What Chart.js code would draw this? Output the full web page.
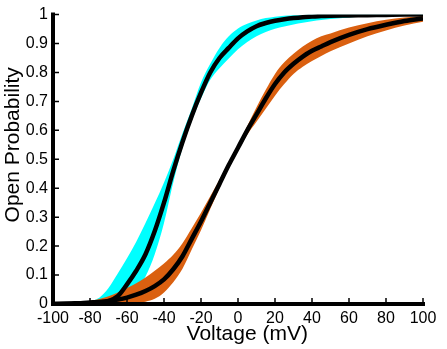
<!DOCTYPE html>
<html>
<head>
<meta charset="utf-8">
<script src="https://cdn.jsdelivr.net/npm/chart.js@4.4.1/dist/chart.umd.min.js"></script>
<style>
  html, body { margin: 0; padding: 0; background: #fff; }
  #wrap { width: 447px; height: 349px; }
</style>
</head>
<body>
<div id="wrap"><canvas id="openProbChart"></canvas></div>
<script>
// voltage grid (mV) shared by every series
const voltage = [-100, -90, -85, -80, -75, -70, -65, -60, -55, -50,
  -45, -40, -35, -30, -25, -20, -15, -10, -5, 0,
  5, 10, 15, 20, 25, 30, 35, 40, 45, 50,
  60, 70, 80, 90, 100];

// cyan channel: fit line and band edges
const cyanMid = [0, 0.001, 0.002, 0.003, 0.005, 0.01, 0.027, 0.068, 0.115, 0.172,
  0.252, 0.35, 0.46, 0.56, 0.65, 0.73, 0.8, 0.85, 0.885, 0.918,
  0.942, 0.96, 0.971, 0.979, 0.984, 0.988, 0.991, 0.993, 0.995, 0.996,
  0.997, 0.998, 0.999, 1, 1];
const cyanHigh = [0.001, 0.003, 0.005, 0.01, 0.022, 0.055, 0.105, 0.158, 0.215, 0.28,
  0.348, 0.42, 0.5, 0.59, 0.675, 0.765, 0.83, 0.885, 0.925, 0.952,
  0.968, 0.98, 0.988, 0.993, 0.996, 0.998, 0.999, 1, 1, 1,
  1, 1, 1, 1, 1];
const cyanLow = [0, 0, 0, 0, 0, 0, 0.003, 0.015, 0.045, 0.095,
  0.172, 0.28, 0.42, 0.54, 0.632, 0.71, 0.775, 0.815, 0.848, 0.88,
  0.905, 0.925, 0.94, 0.951, 0.959, 0.966, 0.972, 0.977, 0.981, 0.985,
  0.99, 0.994, 0.997, 0.998, 0.999];

// orange channel: fit line and band edges
const orangeMid = [0, 0.002, 0.003, 0.005, 0.007, 0.01, 0.015, 0.022, 0.032, 0.045,
  0.062, 0.085, 0.12, 0.165, 0.225, 0.285, 0.35, 0.415, 0.48, 0.54,
  0.6, 0.655, 0.71, 0.76, 0.8, 0.83, 0.855, 0.875, 0.89, 0.905,
  0.93, 0.95, 0.965, 0.978, 0.987];
const orangeHigh = [0, 0.003, 0.006, 0.01, 0.017, 0.027, 0.04, 0.055, 0.072, 0.092,
  0.115, 0.14, 0.17, 0.21, 0.262, 0.315, 0.372, 0.43, 0.487, 0.55,
  0.615, 0.68, 0.74, 0.795, 0.835, 0.865, 0.89, 0.91, 0.925, 0.935,
  0.955, 0.97, 0.982, 0.99, 0.995];
const orangeLow = [0, 0, 0, 0, 0, 0, 0, 0.001, 0.003, 0.008,
  0.018, 0.04, 0.075, 0.122, 0.188, 0.255, 0.328, 0.4, 0.473, 0.53,
  0.585, 0.63, 0.675, 0.72, 0.76, 0.795, 0.82, 0.84, 0.857, 0.873,
  0.9, 0.925, 0.945, 0.962, 0.975];

const xTicks = [-100, -80, -60, -40, -20, 0, 20, 40, 60, 80, 100];
const yTicks = [0, 0.1, 0.2, 0.3, 0.4, 0.5, 0.6, 0.7, 0.8, 0.9, 1];
const xTitle = "Voltage (mV)";
const yTitle = "Open Probability";

const CYAN = "#00FFFF";
const ORANGE = "#DA6010";
const FONT = "'Liberation Sans', Arial, sans-serif";

function toPoints(ys) {
  return voltage.map((v, i) => ({ x: v, y: ys[i] }));
}

function band(values, color, fill, order) {
  return {
    data: toPoints(values),
    borderWidth: 0,
    borderColor: color,
    backgroundColor: color,
    pointRadius: 0,
    fill: fill,
    cubicInterpolationMode: "monotone",
    order: order,
  };
}

function fitLine(values) {
  return {
    data: toPoints(values),
    borderWidth: 4.5,
    borderColor: "#000000",
    pointRadius: 0,
    fill: false,
    cubicInterpolationMode: "monotone",
    order: 0,
  };
}

// axis lines with inward ticks, plus the two axis titles
const axisPlugin = {
  id: "axisLines",
  afterDatasetsDraw(chart) {
    const { ctx, chartArea: a, scales } = chart;
    ctx.save();
    ctx.strokeStyle = "#000";
    ctx.lineWidth = 4;
    ctx.lineJoin = "miter";
    ctx.beginPath();
    ctx.moveTo(a.left, a.top - 2);
    ctx.lineTo(a.left, a.bottom);
    ctx.lineTo(a.right + 2, a.bottom);
    ctx.stroke();

    ctx.lineWidth = 1.5;
    ctx.beginPath();
    scales.y.ticks.forEach((t) => {
      const py = scales.y.getPixelForValue(t.value);
      ctx.moveTo(a.left, py);
      ctx.lineTo(a.left + 6, py);
    });
    scales.x.ticks.forEach((t) => {
      const px = scales.x.getPixelForValue(t.value);
      ctx.moveTo(px, a.bottom);
      ctx.lineTo(px, a.bottom - 6);
    });
    ctx.stroke();

    ctx.fillStyle = "#000";
    ctx.font = "21px " + FONT;
    ctx.textAlign = "center";
    ctx.textBaseline = "alphabetic";
    ctx.fillText(xTitle, scales.x.getPixelForValue(5), 340);

    ctx.translate(19, scales.y.getPixelForValue(0.55));
    ctx.rotate(-Math.PI / 2);
    ctx.fillText(yTitle, 0, 0);
    ctx.restore();
  },
};

const ctx = document.getElementById("openProbChart").getContext("2d");
new Chart(ctx, {
  type: "line",
  data: {
    datasets: [
      band(cyanHigh, CYAN, "+1", 3),
      band(cyanLow, CYAN, false, 3),
      band(orangeHigh, ORANGE, "+1", 2),
      band(orangeLow, ORANGE, false, 2),
      fitLine(cyanMid),
      fitLine(orangeMid),
    ],
  },
  options: {
    responsive: true,
    maintainAspectRatio: false,
    animation: false,
    layout: {
      padding: { top: 14, right: 24, bottom: 0, left: 0 },
    },
    plugins: {
      legend: { display: false },
      tooltip: { enabled: false },
    },
    scales: {
      x: {
        type: "linear",
        min: -100,
        max: 100,
        afterBuildTicks: (s) => {
          s.ticks = xTicks.map((v) => ({ value: v }));
        },
        afterFit: (s) => {
          s.height = 45;
        },
        grid: { display: false, drawTicks: false },
        border: { display: false },
        ticks: {
          color: "#000",
          padding: 5,
          maxRotation: 0,
          autoSkip: false,
          font: { family: FONT, size: 16 },
        },
      },
      y: {
        type: "linear",
        min: 0,
        max: 1,
        afterBuildTicks: (s) => {
          s.ticks = yTicks.map((v) => ({ value: v }));
        },
        afterFit: (s) => {
          s.width = 53;
        },
        grid: { display: false, drawTicks: false },
        border: { display: false },
        ticks: {
          color: "#000",
          padding: 5,
          autoSkip: false,
          font: { family: FONT, size: 16 },
          callback: (v) => String(v),
        },
      },
    },
  },
  plugins: [axisPlugin],
});
</script>
</body>
</html>
